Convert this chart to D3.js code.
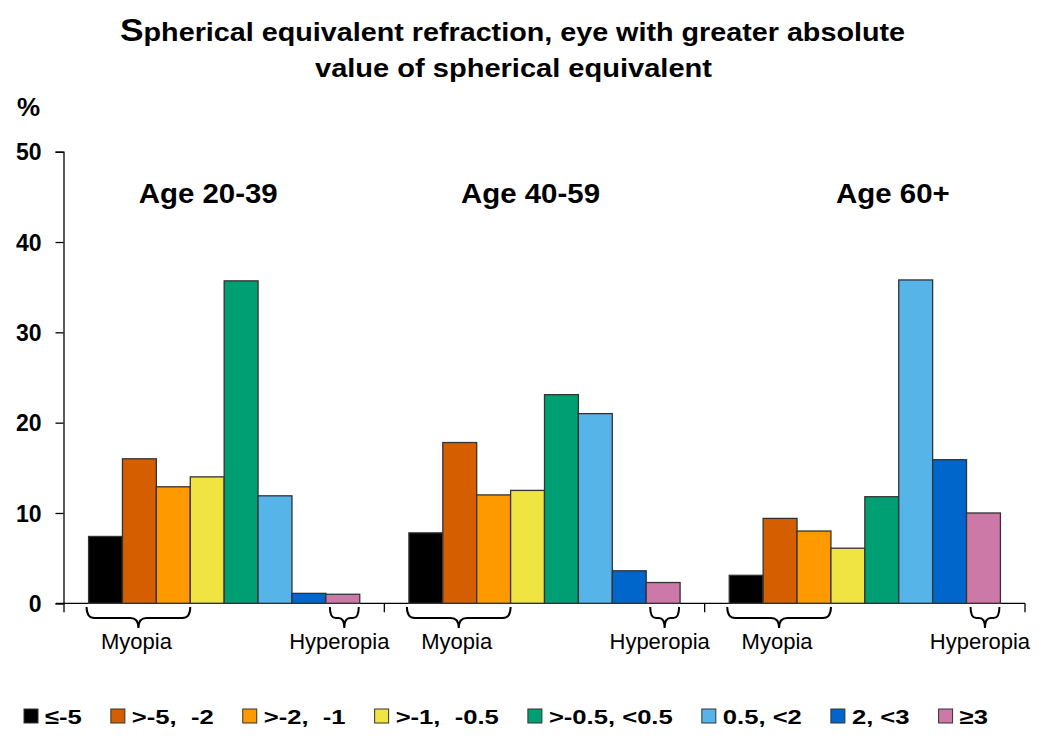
<!DOCTYPE html>
<html>
<head>
<meta charset="utf-8">
<script src="https://cdn.jsdelivr.net/npm/d3@7"></script>
<style>
body{margin:0;background:#fff;}
text{font-family:Arial,"Liberation Sans",sans-serif;}
</style>
</head>
<body>
<svg id="chart" width="1050" height="746"></svg>
<script>
// data
var ageGroups = ["Age 20-39","Age 40-59","Age 60+"];
var refrCats = ["\u2264-5",">-5,  -2",">-2,  -1",">-1,  -0.5",">-0.5, <0.5","0.5, <2","2, <3","\u22653"];
var age2039 = [7.4,16.0,12.9,14.0,35.7,11.9,1.1,1.0];
var age4059 = [7.8,17.8,12.0,12.5,23.1,21.0,3.6,2.3];
var age60 = [3.1,9.4,8.0,6.1,11.8,35.8,15.9,10.0];
var yTicks = [0,10,20,30,40,50];
var catColors = ["#000000","#d55e00","#ff9900","#f0e442","#009e73","#56b4e9","#0066cc","#cc79a7"];

var allVals = [age2039,age4059,age60];
var labelShift = [-16,-14,28]; // age label offset from band centre

var svg = d3.select("#chart");
var x0 = d3.scaleBand().domain(ageGroups).range([64,1025]);
var x1 = d3.scaleBand().domain(refrCats).range([0,x0.bandwidth()]).paddingOuter(0.725);
var y = d3.scaleLinear().domain([0,50]).range([603.3,151.7]);

// title
var t = svg.append("text").attr("x",120).attr("y",41)
  .attr("font-size","26px").attr("font-weight","bold")
  .attr("textLength",785).attr("lengthAdjust","spacingAndGlyphs");
t.append("tspan").attr("font-size","32px").text("S");
t.append("tspan").text("pherical equivalent refraction, eye with greater absolute");
svg.append("text").attr("x",315).attr("y",77)
  .attr("font-size","26px").attr("font-weight","bold")
  .attr("textLength",397).attr("lengthAdjust","spacingAndGlyphs").text("value of spherical equivalent");
svg.append("text").attr("x",17).attr("y",116).attr("font-size","26px").attr("font-weight","bold").text("%");

// y axis
var yAxis = svg.append("g").attr("transform","translate(63.5,0)")
  .call(d3.axisLeft(y).tickValues(yTicks).tickSize(8).tickPadding(14));
yAxis.select(".domain").attr("stroke","#000").attr("stroke-width",1.3);
yAxis.selectAll(".tick line").attr("stroke","#000").attr("stroke-width",1.3);
yAxis.selectAll(".tick text").attr("font-size","23px").attr("font-weight","bold")
  .attr("font-family",'Arial,"Liberation Sans",sans-serif').attr("fill","#000").attr("dy","0.36em");

// x axis
var xAxis = svg.append("g").attr("transform","translate(0,603.3)");
xAxis.append("line").attr("x1",56).attr("x2",1025).attr("stroke","#000").attr("stroke-width",1.3);
xAxis.selectAll("line.tk").data(ageGroups.concat(["end"])).enter().append("line").attr("class","tk")
  .attr("x1",(d,i)=>i<3?x0(d):x0.range()[1]).attr("x2",(d,i)=>i<3?x0(d):x0.range()[1])
  .attr("y1",0).attr("y2",9).attr("stroke","#000").attr("stroke-width",1.3);

// bars
var groups = svg.selectAll("g.grp").data(ageGroups).enter().append("g").attr("class","grp")
  .attr("transform",d=>"translate("+x0(d)+",0)");
groups.selectAll("rect").data((d,i)=>allVals[i].map((v,j)=>({cat:refrCats[j],v:v,c:catColors[j]})))
  .enter().append("rect")
  .attr("x",d=>x1(d.cat)).attr("width",x1.bandwidth())
  .attr("y",d=>y(d.v)).attr("height",d=>y(0)-y(d.v))
  .attr("fill",d=>d.c).attr("stroke","#333").attr("stroke-width",1.3);

// age labels
groups.append("text").attr("text-anchor","middle").attr("font-size","27px").attr("font-weight","bold")
  .attr("transform",(d,i)=>"translate("+(x0.bandwidth()/2+labelShift[i])+",203) scale(1.09,1)").text(d=>d);

// braces
function brace(xa,xb){
  var y0=607, ym=618, tip=628, xm=(xa+xb)/2, r=Math.min(8,(xb-xa)/5);
  return "M"+xa+","+y0+" Q"+xa+","+ym+" "+(xa+r)+","+ym+" L"+(xm-r)+","+ym+
    " Q"+xm+","+ym+" "+xm+","+tip+" Q"+xm+","+ym+" "+(xm+r)+","+ym+
    " L"+(xb-r)+","+ym+" Q"+xb+","+ym+" "+xb+","+y0;
}
groups.each(function(){
  var g = d3.select(this);
  var mA = x1(refrCats[0])-2, mB = x1(refrCats[2])+x1.bandwidth();
  var hA = x1(refrCats[7])+4, hB = x1(refrCats[7])+x1.bandwidth()-1;
  g.append("path").attr("d",brace(mA,mB)).attr("fill","none").attr("stroke","#000").attr("stroke-width",2);
  g.append("path").attr("d",brace(hA,hB)).attr("fill","none").attr("stroke","#000").attr("stroke-width",2);
  g.append("text").attr("x",(mA+mB)/2-2).attr("y",649).attr("text-anchor","middle").attr("font-size","22px").text("Myopia");
  g.append("text").attr("x",(hA+hB)/2-5).attr("y",649).attr("text-anchor","middle").attr("font-size","22px").text("Hyperopia");
});

// legend
var lx = 24;
refrCats.forEach(function(c,i){
  svg.append("rect").attr("x",lx).attr("y",709).attr("width",14).attr("height",14)
    .attr("fill",catColors[i]).attr("stroke","#333").attr("stroke-width",1);
  var tx = svg.append("text").attr("x",0).attr("y",0).attr("font-size","21px").attr("font-weight","bold")
    .attr("xml:space","preserve").style("white-space","pre").text(c);
  var w = tx.node().getComputedTextLength()*1.22;
  tx.attr("transform","translate("+(lx+21)+",724) scale(1.22,1)");
  lx += 21 + w + 29;
});
</script>
</body>
</html>
